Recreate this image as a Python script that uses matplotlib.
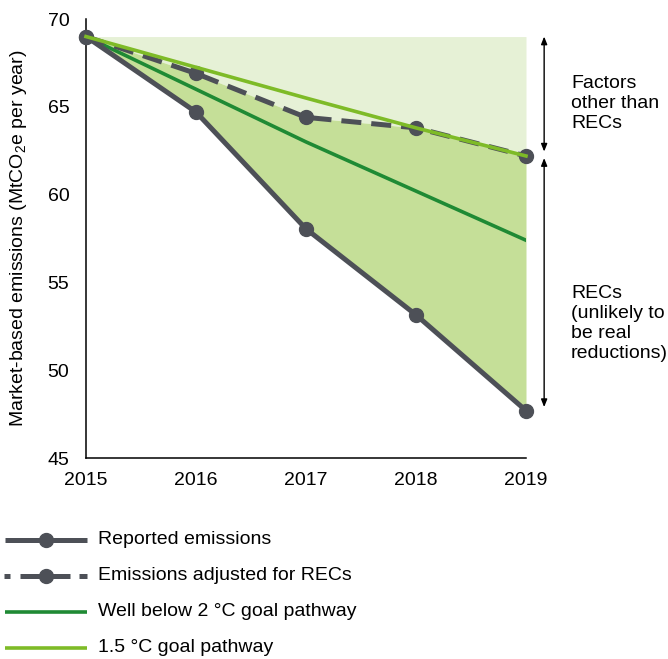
import matplotlib
matplotlib.use("Agg")
import matplotlib.pyplot as plt
from matplotlib.lines import Line2D

plt.rcParams['font.family'] = ['Liberation Sans', 'DejaVu Sans']
plt.rcParams['mathtext.fontset'] = 'custom'
plt.rcParams['mathtext.rm'] = 'Liberation Sans'
plt.rcParams['mathtext.it'] = 'Liberation Sans'

years = [2015, 2016, 2017, 2018, 2019]
reported = [69.0, 64.7, 58.05, 53.15, 47.7]
adjusted = [69.0, 66.9, 64.4, 63.8, 62.2]
well_below_2 = [69.0, 66.0, 63.0, 60.2, 57.4]
goal_15 = [69.0, 67.25, 65.5, 63.8, 62.2]

GRAY = '#4d5057'
DARK_GREEN = '#1f8a34'
LIGHT_GREEN = '#7ebb27'
FILL_LIGHT = '#e6f1d6'
FILL_DARK = '#c5df98'

FS = 14
W, H = 668, 659
fig = plt.figure(figsize=(W / 100, H / 100), dpi=100)
ax = fig.add_axes([86 / W, 1 - 458 / H, (526 - 86) / W, (458 - 19) / H])

ax.fill_between(years, adjusted, [reported[0]] * len(years), color=FILL_LIGHT, lw=0)
ax.fill_between(years, reported, adjusted, color=FILL_DARK, lw=0)

ax.plot(years, well_below_2, color=DARK_GREEN, lw=2.6, zorder=3)
ax.plot(years, reported, color=GRAY, lw=3.6, marker='o', ms=10, zorder=4, clip_on=False)
ax.plot(years, adjusted, color=GRAY, lw=3.6, marker='o', ms=10, dashes=(4, 2), zorder=4, clip_on=False)
ax.plot(years, goal_15, color=LIGHT_GREEN, lw=2.6, zorder=5, clip_on=False)

ax.set_xlim(2015, 2019)
ax.set_ylim(45, 70)
ax.set_xticks(years)
ax.set_yticks([45, 50, 55, 60, 65, 70])
ax.tick_params(length=0, labelsize=FS, pad=10)
ax.tick_params(axis='y', pad=12)
for s in ['top', 'right']:
    ax.spines[s].set_visible(False)
for s in ['left', 'bottom']:
    ax.spines[s].set_linewidth(1.1)
ax.set_ylabel('Market-based emissions (MtCO$_2$e per year)', fontsize=FS, labelpad=13)

# bracket arrows
xa = 2019.165
aprops = dict(arrowstyle='<|-|>,head_length=0.45,head_width=0.18', color='black', lw=1.0,
              shrinkA=0, shrinkB=0)
ax.annotate('', xy=(xa, reported[0]), xytext=(xa, adjusted[-1] + 0.25),
            arrowprops=aprops, annotation_clip=False)
ax.annotate('', xy=(xa, adjusted[-1] - 0.12), xytext=(xa, reported[-1] + 0.2),
            arrowprops=aprops, annotation_clip=False)

ax.text(2019.41, 65.2, 'Factors\nother than\nRECs', fontsize=FS, va='center', ha='left',
        linespacing=1.22, clip_on=False)
ax.text(2019.41, 52.66, 'RECs\n(unlikely to\nbe real\nreductions)', fontsize=FS, va='center',
        ha='left', linespacing=1.22, clip_on=False)

# legend (figure pixel coordinates)
def fx(x):
    return x / W

def fy(y):
    return 1 - y / H

leg_y = [540, 576, 612, 648]
x0, x1, xt = 5, 87, 98

def seg(xa_, xb_, y, color, lw):
    fig.add_artist(Line2D([fx(xa_), fx(xb_)], [fy(y)] * 2, color=color, lw=lw,
                          solid_capstyle='butt'))

seg(x0, x1, leg_y[0], GRAY, 3.6)
fig.add_artist(Line2D([fx(46)], [fy(leg_y[0])], color=GRAY, marker='o', ms=10, lw=0))
seg(4, 10, leg_y[1], GRAY, 3.6)
seg(20, 70, leg_y[1], GRAY, 3.6)
seg(79, 87, leg_y[1], GRAY, 3.6)
fig.add_artist(Line2D([fx(46)], [fy(leg_y[1])], color=GRAY, marker='o', ms=10, lw=0))
seg(x0, x1, leg_y[2], DARK_GREEN, 2.6)
seg(x0, x1, leg_y[3], LIGHT_GREEN, 2.6)

labels = ['Reported emissions', 'Emissions adjusted for RECs',
          'Well below 2 °C goal pathway', '1.5 °C goal pathway']
for y, t in zip(leg_y, labels):
    fig.text(fx(xt), fy(y), t, fontsize=FS, va='center', ha='left')

fig.savefig('out.png', dpi=100)
